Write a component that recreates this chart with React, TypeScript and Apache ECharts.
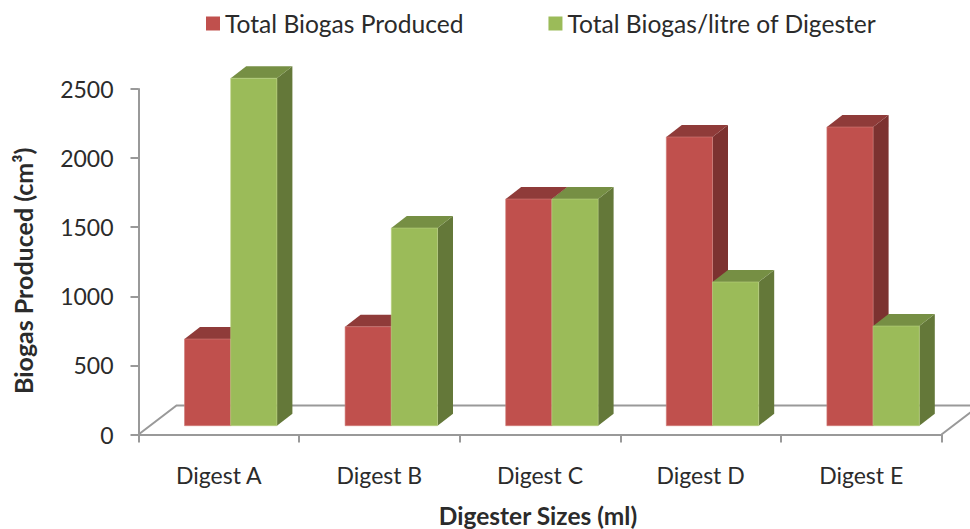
import React, { useEffect, useRef } from "react";
import * as echarts from "echarts";

const categories = ["Digest A", "Digest B", "Digest C", "Digest D", "Digest E"];
const totalBiogas = [627, 716, 1640, 2089, 2161];
const biogasPerLitre = [2514, 1430, 1640, 1040, 721];
const yTicks = { min: 0, max: 2500, interval: 500 };

const FONT = "Lato";
const TEXT = "#2b2b2b";
const AXIS = "#999999";
const RED = { front: "#C0504D", top: "#8F3B39", side: "#7C3230", edge: "#D07C79" };
const GREEN = { front: "#9BBB59", top: "#768F44", side: "#647839", edge: "#B8D080" };

const BAR_RATIO = 46.2 / 160.6;
const SHIFT_RATIO = 11.9 / 160.6;
const DX = 15.5;
const DY = 12;
const LIFT = 8.8;

function barRenderer(slot: number, c: typeof RED) {
  return (_params: any, api: any) => {
    const i = api.value(0);
    const v = api.value(1);
    const band = api.size([1, 0])[0];
    const w = band * BAR_RATIO;
    const center = api.coord([i, 0])[0] + band * SHIFT_RATIO;
    const x0 = center + slot * w;
    const x1 = x0 + w;
    const yb = api.coord([i, 0])[1] - LIFT;
    const yt = api.coord([i, v])[1] - LIFT;
    return {
      type: "group",
      silent: true,
      children: [
        {
          type: "polygon",
          shape: { points: [[x1, yt], [x1 + DX, yt - DY], [x1 + DX, yb - DY], [x1, yb]] },
          style: { fill: c.side },
        },
        {
          type: "polygon",
          shape: { points: [[x0, yt], [x0 + DX, yt - DY], [x1 + DX, yt - DY], [x1, yt]] },
          style: { fill: c.top },
        },
        {
          type: "rect",
          shape: { x: x0, y: yt, width: w, height: yb - yt },
          style: { fill: c.front, stroke: c.edge, lineWidth: 0.6 },
        },
      ],
    };
  };
}

function floorRenderer(params: any) {
  const cs = params.coordSys;
  const y = cs.y + cs.height;
  const depth = 29;
  const run = 38;
  return {
    type: "polyline",
    silent: true,
    shape: {
      points: [
        [cs.x, y],
        [cs.x + run, y - depth],
        [cs.x + cs.width + run, y - depth],
        [cs.x + cs.width, y],
      ],
    },
    style: { fill: "none", stroke: AXIS, lineWidth: 2 },
  };
}

export default function App() {
  const ref = useRef<HTMLDivElement>(null);
  useEffect(() => {
    document.body.style.margin = "0";
    const chart = echarts.init(ref.current!, undefined, { renderer: "svg" });
    chart.setOption({
      animation: false,
      backgroundColor: "#ffffff",
      textStyle: { fontFamily: FONT },
      grid: { left: 138.5, right: 28.5, top: 89, bottom: 94.5, containLabel: false, outerBoundsMode: "none" },
      legend: {
        data: ["Total Biogas Produced", "Total Biogas/litre of Digester"],
        left: 201,
        top: 6,
        icon: "rect",
        itemWidth: 14,
        itemHeight: 14,
        itemGap: 85,
        textStyle: { fontFamily: FONT, fontSize: 24.6, color: TEXT },
        selectedMode: false,
      },
      xAxis: {
        type: "category",
        data: categories,
        name: "Digester Sizes (ml)",
        nameLocation: "middle",
        nameGap: 68,
        nameTextStyle: { fontFamily: FONT, fontSize: 24.5, fontWeight: "bold", color: TEXT, padding: [0, 4, 0, 0] },
        axisLine: { lineStyle: { color: AXIS, width: 2 } },
        axisTick: { show: true, length: 8, lineStyle: { color: AXIS, width: 2 } },
        axisLabel: { fontFamily: FONT, fontSize: 23, color: TEXT, margin: 29 },
        splitLine: { show: false },
      },
      yAxis: {
        type: "value",
        min: yTicks.min,
        max: yTicks.max,
        interval: yTicks.interval,
        name: "Biogas Produced (cm³)",
        nameLocation: "middle",
        nameGap: 103,
        nameTextStyle: { fontFamily: FONT, fontSize: 25, fontWeight: "bold", color: TEXT, padding: [0, 0, 0, -18] },
        axisLine: { show: true, lineStyle: { color: AXIS, width: 2 } },
        axisTick: { show: true, length: 8, lineStyle: { color: AXIS, width: 2 } },
        axisLabel: { fontFamily: FONT, fontSize: 23, color: TEXT, margin: 25, formatter: (v: number) => String(v) },
        splitLine: { show: false },
      },
      series: [
        {
          type: "custom",
          name: "floor",
          coordinateSystem: "cartesian2d",
          renderItem: floorRenderer,
          data: [[0, 0]],
          clip: false,
          silent: true,
          z: 1,
        },
        {
          type: "custom",
          name: "Total Biogas Produced",
          coordinateSystem: "cartesian2d",
          renderItem: barRenderer(-1, RED),
          encode: { x: 0, y: 1 },
          data: categories.map((_, i) => [i, totalBiogas[i]]),
          itemStyle: { color: RED.front },
          clip: false,
          z: 2,
        },
        {
          type: "custom",
          name: "Total Biogas/litre of Digester",
          coordinateSystem: "cartesian2d",
          renderItem: barRenderer(0, GREEN),
          encode: { x: 0, y: 1 },
          data: categories.map((_, i) => [i, biogasPerLitre[i]]),
          itemStyle: { color: GREEN.front },
          clip: false,
          z: 3,
        },
      ],
    });
    return () => chart.dispose();
  }, []);
  return <div ref={ref} style={{ width: 970, height: 529 }} />;
}
